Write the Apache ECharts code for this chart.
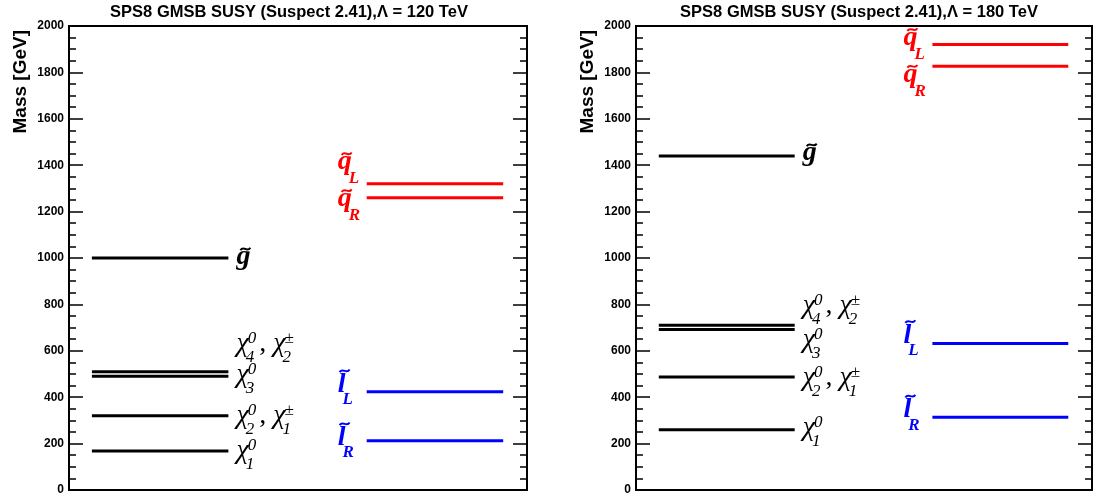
<!DOCTYPE html>
<html>
<head>
<meta charset="utf-8">
<script src="https://cdn.jsdelivr.net/npm/echarts@6/dist/echarts.min.js"></script>
<style>
  html, body { margin: 0; padding: 0; background: #fff; }
  #chart { width: 1100px; height: 498px; }
</style>
</head>
<body>
<div id="chart"></div>
<script>
// Sparticle states drawn in each panel, always in this order
const states = ['chi10', 'chi20', 'chi30', 'chi40', 'gluino', 'squarkL', 'squarkR', 'sleptonL', 'sleptonR'];
// Masses in GeV, Λ = 120 TeV
const mass120 = [168, 320, 490, 510, 1000, 1320, 1260, 423, 212];
// Masses in GeV, Λ = 180 TeV
const mass180 = [260, 487, 692, 710, 1440, 1920, 1826, 631, 314];
const panelTitles = ['SPS8 GMSB SUSY (Suspect 2.41),Λ = 120 TeV', 'SPS8 GMSB SUSY (Suspect 2.41),Λ = 180 TeV'];
const axisTitle = 'Mass [GeV]';
const massMin = 0, massMax = 2000, massStep = 200;

// Label text for each state: base glyph, optional tilde, super- and subscripts
const stateLabels = {
  chi10:    [{ t: 'χ', sup: '0', sub: '1' }],
  chi20:    [{ t: 'χ', sup: '0', sub: '2' }, { t: ', ', padL: 3 }, { t: 'χ', sup: '±', sub: '1' }],
  chi30:    [{ t: 'χ', sup: '0', sub: '3' }],
  chi40:    [{ t: 'χ', sup: '0', sub: '4' }, { t: ', ', padL: 3 }, { t: 'χ', sup: '±', sub: '2' }],
  gluino:   [{ t: 'g', tilde: true }],
  squarkL:  [{ t: 'q', tilde: true, sub: 'L' }],
  squarkR:  [{ t: 'q', tilde: true, sub: 'R' }],
  sleptonL: [{ t: 'l', tilde: true, sub: 'L' }],
  sleptonR: [{ t: 'l', tilde: true, sub: 'R' }]
};

// ---- styling / layout ----
const family = {
  chi10: 'neutral', chi20: 'neutral', chi30: 'neutral', chi40: 'neutral',
  gluino: 'gluino', squarkL: 'squark', squarkR: 'squark', sleptonL: 'slepton', sleptonR: 'slepton'
};
const familyStyle = {
  neutral: { color: '#000000', weight: 'normal', column: 0 },
  gluino:  { color: '#000000', weight: 'bold',   column: 0 },
  squark:  { color: '#ff0000', weight: 'bold',   column: 1 },
  slepton: { color: '#0000ff', weight: 'bold',   column: 1 }
};
// horizontal extent of the level lines, as a fraction of the panel width
const columns = [[0.05, 0.348], [0.65, 0.948]];
// vertical shift of each label against its level line (px)
const labelShift = [
  { chi10: 0, chi20: 0, chi30: -2, chi40: -28, gluino: -1, squarkL: -22, squarkR: 1, sleptonL: -7, sleptonR: -3 },
  { chi10: -2, chi20: 1, chi30: 10, chi40: -20, gluino: -3, squarkL: -7, squarkR: 8, sleptonL: -8, sleptonR: -7 }
];
const serif = '"Liberation Serif", "DejaVu Serif", serif';
const sans = '"Liberation Sans", Arial, sans-serif';
const mainSize = 28, scriptSize = 17;

const measureCtx = document.createElement('canvas').getContext('2d');
function textWidth(text, font) {
  measureCtx.font = font;
  return measureCtx.measureText(text).width;
}

function textEl(x, y, text, font, color) {
  return {
    type: 'text', x: x, y: y,
    style: { text: text, font: font, fill: color, align: 'left', verticalAlign: 'middle', textAlign: 'left', textVerticalAlign: 'middle' }
  };
}

function buildLabel(state, x0, yMid) {
  const fs = familyStyle[family[state]];
  const mainFont = 'italic ' + fs.weight + ' ' + mainSize + 'px ' + serif;
  const scriptFont = 'italic ' + fs.weight + ' ' + scriptSize + 'px ' + serif;
  const commaFont = 'normal ' + fs.weight + ' ' + mainSize + 'px ' + serif;
  const isQ = family[state] === 'squark';
  const isL = family[state] === 'slepton';
  const subDy = isQ ? 17 : (isL ? 15 : 14);
  const els = [];
  let x = x0;
  stateLabels[state].forEach(function (atom) {
    x += atom.padL || 0;
    const font = atom.t === ', ' ? commaFont : mainFont;
    const w = textWidth(atom.t, font);
    els.push(textEl(x, yMid, atom.t, font, fs.color));
    if (atom.tilde) {
      const cx = x + w / 2 + (isL ? 3 : 2);
      const ty = yMid + (isL ? -14 : -8);
      els.push({
        type: 'bezierCurve',
        shape: { x1: cx - 5, y1: ty + 1.3, cpx1: cx - 1.7, cpy1: ty - 3.8, cpx2: cx + 1.7, cpy2: ty + 3.8, x2: cx + 5, y2: ty - 1.3 },
        style: { stroke: fs.color, lineWidth: 2, fill: null }
      });
    }
    let sw = 0;
    if (atom.sup) {
      els.push(textEl(x + w - 1, yMid - 5, atom.sup, scriptFont, fs.color));
      sw = Math.max(sw, textWidth(atom.sup, scriptFont) - 1);
    }
    if (atom.sub) {
      els.push(textEl(x + w - 3, yMid + subDy, atom.sub, scriptFont, fs.color));
      sw = Math.max(sw, textWidth(atom.sub, scriptFont) - 3);
    }
    x += w + sw;
  });
  return els;
}

function levelRenderer(panel) {
  return function (params, api) {
    const idx = api.value(0);
    const mass = api.value(1);
    const state = states[idx];
    const fs = familyStyle[family[state]];
    const col = columns[fs.column];
    const p0 = api.coord([col[0], mass]);
    const p1 = api.coord([col[1], mass]);
    const children = [{
      type: 'line',
      shape: { x1: p0[0], y1: p0[1], x2: p1[0], y2: p1[1] },
      style: { stroke: fs.color, lineWidth: 3 }
    }];
    const yMid = p0[1] + labelShift[panel][state];
    const lx = fs.column === 0 ? p1[0] + 8 : p0[0] - 29;
    return { type: 'group', children: children.concat(buildLabel(state, lx, yMid)) };
  };
}

const grids = [
  { left: 69, top: 26, width: 458, height: 464 },
  { left: 636, top: 26, width: 456, height: 464 }
];

function massYAxis(gridIndex, side) {
  return {
    type: 'value', gridIndex: gridIndex, position: side,
    min: massMin, max: massMax, interval: massStep,
    axisLine: { show: true, lineStyle: { color: '#000', width: 2 } },
    axisTick: { show: true, inside: true, length: 14, lineStyle: { color: '#000', width: 1.5 } },
    minorTick: { show: true, splitNumber: 4, length: 7, lineStyle: { color: '#000', width: 1.5 } },
    splitLine: { show: false },
    axisLabel: {
      show: side === 'left', margin: 5, color: '#000',
      fontFamily: sans, fontWeight: 'bold', fontSize: 12,
      formatter: function (v) { return String(v); }
    }
  };
}

const titleStyle = { font: 'bold 16.5px ' + sans, fill: '#000', align: 'center', verticalAlign: 'middle', textAlign: 'center', textVerticalAlign: 'middle' };
const nameStyle = { font: 'bold 19px ' + sans, fill: '#000', align: 'right', verticalAlign: 'middle', textAlign: 'right', textVerticalAlign: 'middle' };

const option = {
  animation: false,
  backgroundColor: '#ffffff',
  grid: grids.map(function (g) {
    return Object.assign({ show: true, borderColor: '#000', borderWidth: 2, backgroundColor: 'transparent' }, g);
  }),
  xAxis: grids.map(function (g, i) {
    return { type: 'value', gridIndex: i, min: 0, max: 1, show: false };
  }),
  yAxis: [massYAxis(0, 'left'), massYAxis(0, 'right'), massYAxis(1, 'left'), massYAxis(1, 'right')],
  series: [mass120, mass180].map(function (masses, panel) {
    return {
      type: 'custom',
      xAxisIndex: panel, yAxisIndex: panel * 2,
      renderItem: levelRenderer(panel),
      encode: { x: 0, y: 1 },
      clip: false,
      data: masses.map(function (m, i) { return [i, m]; })
    };
  }),
  graphic: [
    { type: 'text', x: 289, y: 12, style: Object.assign({ text: panelTitles[0] }, titleStyle) },
    { type: 'text', x: 859, y: 12, style: Object.assign({ text: panelTitles[1] }, titleStyle) },
    { type: 'text', x: 21, y: 30, rotation: Math.PI / 2, style: Object.assign({ text: axisTitle }, nameStyle) },
    { type: 'text', x: 588, y: 30, rotation: Math.PI / 2, style: Object.assign({ text: axisTitle }, nameStyle) }
  ]
};

const chart = echarts.init(document.getElementById('chart'), null, { renderer: 'canvas' });
chart.setOption(option);
</script>
</body>
</html>
